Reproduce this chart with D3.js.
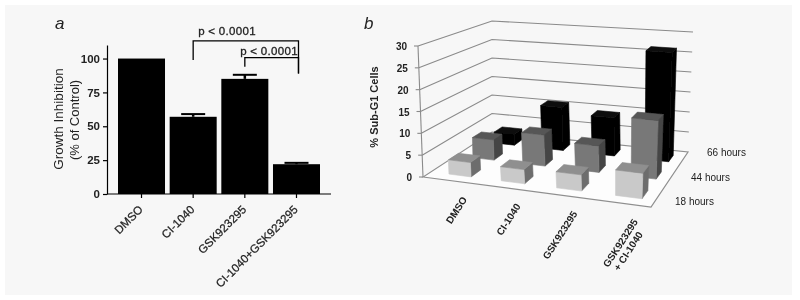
<!DOCTYPE html>
<html>
<head>
    <meta charset="utf-8">
    <title>Growth inhibition and Sub-G1 cells</title>
    <script src="https://d3js.org/d3.v7.min.js"></script>
    <style>
        body { margin: 0; background: #fff; }
        text { font-family: "Liberation Sans", Arial, sans-serif; fill: #222; }
    </style>
</head>
<body>
<svg width="800" height="300"></svg>
<script>
    // panel a
    const treatmentsA = ["DMSO", "CI-1040", "GSK923295", "CI-1040+GSK923295"];
    const inhibition = [100, 57, 85, 22];
    const inhibitionErr = [0, 59, 88, 23];
    const inhibitionTicks = [0, 25, 50, 75, 100];
    const pLabel = "p < 0.0001";

    // panel b
    const treatmentsB = ["DMSO", "CI-1040", "GSK923295", "GSK923295\n+ CI-1040"];
    const hours = ["18 hours", "44 hours", "66 hours"];
    const subG1_18 = [3.3, 3.2, 3.6, 5.6];
    const subG1_44 = [4.9, 7.4, 6.2, 13.5];
    const subG1_66 = [2.8, 10.8, 9.4, 26.5];
    const subG1Ticks = [0, 5, 10, 15, 20, 25, 30];

    const svg = d3.select("svg");

    const defs = svg.append("defs");
    defs.append("filter").attr("id", "soft")
        .append("feGaussianBlur").attr("stdDeviation", "0.35");

    const root = svg.append("g").attr("filter", "url(#soft)");

    root.append("rect")
        .attr("x", 5).attr("y", 5)
        .attr("width", 787).attr("height", 290)
        .attr("fill", "#f7f7f7");

    // ---- panel a ----
    const x = d3.scaleBand().domain(treatmentsA).range([118, 320]).paddingInner(0.09);
    const y = d3.scaleLinear().domain([0, 110]).range([194, 45]);
    const a = root.append("g");

    a.selectAll("rect.bar")
        .data(treatmentsA)
        .join("rect")
        .attr("class", "bar")
        .attr("x", d => x(d))
        .attr("width", x.bandwidth())
        .attr("y", (d, i) => y(inhibition[i]))
        .attr("height", (d, i) => y(0) - y(inhibition[i]))
        .attr("fill", "#000");

    // error bars
    treatmentsA.forEach((d, i) => {
        if (!inhibitionErr[i]) return;
        const cx = x(d) + x.bandwidth() / 2;
        a.append("line")
            .attr("x1", cx).attr("x2", cx)
            .attr("y1", y(inhibition[i])).attr("y2", y(inhibitionErr[i]))
            .attr("stroke", "#000").attr("stroke-width", 2.5);
        a.append("line")
            .attr("x1", cx - 12).attr("x2", cx + 12)
            .attr("y1", y(inhibitionErr[i])).attr("y2", y(inhibitionErr[i]))
            .attr("stroke", "#000").attr("stroke-width", 2);
    });

    const yAxisA = a.append("g")
        .attr("transform", "translate(107,0)")
        .call(d3.axisLeft(y).tickValues(inhibitionTicks).tickSize(4).tickPadding(3).tickSizeOuter(0));
    yAxisA.selectAll("text").attr("font-size", 11.5).attr("font-weight", "bold")
        .style("font-family", "'Liberation Sans'");

    const xAxisA = a.append("g")
        .attr("transform", "translate(0,194)")
        .call(d3.axisBottom(x).tickSize(4).tickSizeOuter(0));
    xAxisA.select(".domain").remove();
    xAxisA.selectAll("text")
        .attr("font-size", 11.5)
        .attr("text-anchor", "end")
        .attr("dx", -10).attr("dy", 6)
        .attr("stroke", "#222").attr("stroke-width", 0.25)
        .attr("transform", "rotate(-45)")
        .style("font-family", "'Liberation Sans'");

    a.append("line")
        .attr("x1", 107).attr("x2", 331)
        .attr("y1", y(0)).attr("y2", y(0))
        .attr("stroke", "#000");
    a.selectAll(".domain, .tick line").attr("stroke", "#000").attr("stroke-width", 1.2);

    a.append("text")
        .attr("transform", "translate(63,119) rotate(-90)")
        .attr("text-anchor", "middle").attr("font-size", 13.5)
        .text("Growth Inhibition");
    a.append("text")
        .attr("transform", "translate(79,120) rotate(-90)")
        .attr("text-anchor", "middle").attr("font-size", 13)
        .text("(% of Control)");

    // significance brackets
    const bracket = (from, to, top, endFrom, endTo) => {
        const xFrom = x(from) + x.bandwidth() / 2;
        const xTo = x(to) + x.bandwidth() / 2 + 2;
        a.append("path")
            .attr("d", d3.line()([[xFrom, y(endFrom)], [xFrom, y(top)], [xTo, y(top)], [xTo, y(endTo)]]))
            .attr("fill", "none").attr("stroke", "#000").attr("stroke-width", 1.3);
    };
    bracket("CI-1040", "CI-1040+GSK923295", 113, 99, 89);
    bracket("GSK923295", "CI-1040+GSK923295", 100.7, 94, 89);

    a.append("text").attr("x", 227).attr("y", 35)
        .attr("text-anchor", "middle").attr("font-size", 11.5)
        .attr("stroke", "#222").attr("stroke-width", 0.3)
        .attr("letter-spacing", 0.3).text(pLabel);
    a.append("text").attr("x", 269).attr("y", 55)
        .attr("text-anchor", "middle").attr("font-size", 11.5)
        .attr("stroke", "#222").attr("stroke-width", 0.3)
        .attr("letter-spacing", 0.3).text(pLabel);

    a.append("text").attr("x", 55).attr("y", 29)
        .attr("font-size", 17).attr("font-style", "italic").text("a");

    // ---- panel b ----
    // floor and top planes of the box, corners go front-left, front-right, back-right, back-left
    const floorQuad = [[423, 177], [651, 207], [688, 152], [492, 132]];
    const topQuad = [[418, 46], [658, 68], [693, 32], [492, 21]];

    function homography(q) {
        const [p0, p1, p2, p3] = q;
        const dx1 = p1[0] - p2[0], dx2 = p3[0] - p2[0], sx = p0[0] - p1[0] + p2[0] - p3[0];
        const dy1 = p1[1] - p2[1], dy2 = p3[1] - p2[1], sy = p0[1] - p1[1] + p2[1] - p3[1];
        const det = dx1 * dy2 - dx2 * dy1;
        const g = (sx * dy2 - dx2 * sy) / det;
        const h = (dx1 * sy - sx * dy1) / det;
        return (u, v) => {
            const w = g * u + h * v + 1;
            return [
                ((p1[0] - p0[0] + g * p1[0]) * u + (p3[0] - p0[0] + h * p3[0]) * v + p0[0]) / w,
                ((p1[1] - p0[1] + g * p1[1]) * u + (p3[1] - p0[1] + h * p3[1]) * v + p0[1]) / w
            ];
        };
    }
    const floorAt = homography(floorQuad);
    const topAt = homography(topQuad);

    const uScale = d3.scaleBand().domain(treatmentsB).range([0.018, 1.018]).paddingInner(0.57).paddingOuter(0.285);
    const vScale = d3.scaleBand().domain(hours).range([0, 1]).paddingInner(0.6).paddingOuter(0.3);
    const zScale = d3.scaleLinear().domain([0, 30]).range([0, 1]);

    const project = (u, v, z) => {
        const f = floorAt(u, v), t = topAt(u, v), k = zScale(z);
        return [f[0] + (t[0] - f[0]) * k, f[1] + (t[1] - f[1]) * k];
    };
    const poly = pts => "M" + pts.map(p => p.join(",")).join("L") + "Z";

    const b = root.append("g");

    // floor
    b.append("path").attr("d", poly(floorQuad))
        .attr("fill", "#fdfdfd").attr("stroke", "#8f8f8f").attr("stroke-width", 1.2);

    // wall grid lines
    subG1Ticks.forEach(t => {
        if (t > 0) {
            b.append("path")
                .attr("d", d3.line()([project(0, 0, t), project(0, 1, t), project(1, 1, t)]))
                .attr("fill", "none").attr("stroke", "#8a8a8a").attr("stroke-width", 1.1);
        }
        const p = project(0, 0, t);
        b.append("line")
            .attr("x1", p[0] - 4).attr("x2", p[0]).attr("y1", p[1]).attr("y2", p[1])
            .attr("stroke", "#8a8a8a").attr("stroke-width", 1.1);
        b.append("text")
            .attr("x", p[0] - 11).attr("y", p[1] + 4)
            .attr("text-anchor", "end").attr("font-size", 10).attr("font-weight", "bold")
            .attr("fill", "#333").text(t);
    });
    b.append("line")
        .attr("x1", project(0, 0, 0)[0]).attr("y1", project(0, 0, 0)[1])
        .attr("x2", project(0, 0, 30)[0]).attr("y2", project(0, 0, 30)[1])
        .attr("stroke", "#8a8a8a").attr("stroke-width", 1.1);

    b.append("text")
        .attr("transform", "translate(378,107) rotate(-90)")
        .attr("text-anchor", "middle").attr("font-size", 11).attr("font-weight", "bold")
        .text("% Sub-G1 Cells");

    // bars, back row first
    const rows = [
        { values: subG1_66, front: "#000", top: "#0a0a0a", side: "#000" },
        { values: subG1_44, front: "#787878", top: "#565656", side: "#454545" },
        { values: subG1_18, front: "#c9c9c9", top: "#8f8f8f", side: "#6d6d6d" }
    ];
    const rowNames = hours.slice().reverse();

    const face = (g, pts, col) => g.append("path").attr("d", poly(pts))
        .attr("fill", col).attr("stroke", col).attr("stroke-width", 0.6).attr("stroke-linejoin", "round");

    rows.forEach((row, r) => {
        const v0 = vScale(rowNames[r]);
        const v1 = v0 + vScale.bandwidth();
        treatmentsB.forEach((c, i) => {
            const u0 = uScale(c);
            const u1 = u0 + uScale.bandwidth();
            const z = row.values[i];
            const g = b.append("g");
            face(g, [project(u1, v0, 0), project(u1, v1, 0), project(u1, v1, z), project(u1, v0, z)], row.side);
            face(g, [project(u0, v0, 0), project(u1, v0, 0), project(u1, v0, z), project(u0, v0, z)], row.front);
            face(g, [project(u0, v0, z), project(u1, v0, z), project(u1, v1, z), project(u0, v1, z)], row.top);
        });
    });

    // category labels
    treatmentsB.forEach(c => {
        const p = floorAt(uScale(c) + uScale.bandwidth() / 2 - 0.018, 0);
        const lines = c.split("\n");
        const t = b.append("text")
            .attr("transform", `translate(${p[0] + 19},${p[1] + 19}) rotate(-57)`)
            .attr("text-anchor", "end").attr("font-size", 10).attr("font-weight", "bold");
        lines.forEach((l, j) => {
            t.append("tspan")
                .attr("x", j ? -8 : 0).attr("dy", j ? 11 : 0).text(l);
        });
    });

    // depth labels
    const hourX = d3.scalePoint().domain(hours).range([675, 707]);
    const hourY = d3.scalePoint().domain(hours).range([205, 156]);
    hours.forEach(h => {
        b.append("text")
            .attr("x", hourX(h)).attr("y", hourY(h))
            .attr("font-size", 10)
            .attr("fill", "#333").text(h);
    });

    b.append("text").attr("x", 364).attr("y", 29)
        .attr("font-size", 17).attr("font-style", "italic").text("b");
</script>
</body>
</html>
